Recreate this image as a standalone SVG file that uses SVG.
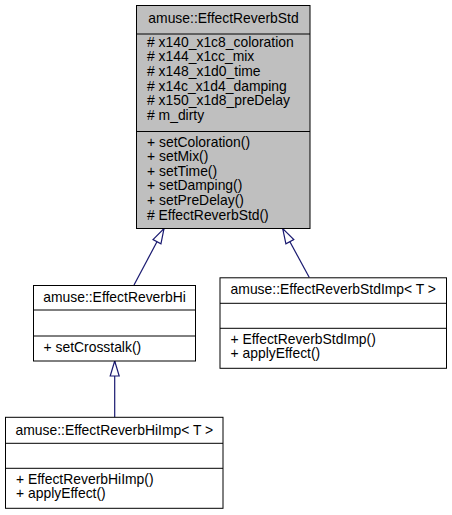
<svg xmlns="http://www.w3.org/2000/svg" width="452" height="515" viewBox="0 0 452 515">
<style>
rect.box{fill:#ffffff;stroke:#000000;stroke-width:1}
rect.focus{fill:#bfbfbf}
line.sep{stroke:#000000;stroke-width:1}
text{font-family:"Liberation Sans",Arial,Helvetica,sans-serif;font-size:13.9px;fill:#000000}
text.t{text-anchor:middle}
.edge{stroke:#191970;stroke-width:1.2;fill:none;marker-end:url(#inh)}
</style>
<defs>
<marker id="inh" markerUnits="userSpaceOnUse" viewBox="0 0 17 11" refX="16" refY="5.5" markerWidth="17" markerHeight="11" orient="auto">
<path d="M1,1 L16,5.5 L1,10 Z" fill="#ffffff" stroke="#191970" stroke-width="1.2"/>
</marker>
</defs>
<g id="connectors">
<path class="edge" d="M134,285 L164,228.5"/>
<path class="edge" d="M309.3,277.5 L282.7,228.5"/>
<path class="edge" d="M114.7,417.3 L114.7,361"/>
</g>
<g id="EffectReverbStd">
<rect class="box focus" x="136.5" y="5.5" width="173.5" height="223"/>
<line class="sep" x1="136.5" y1="34" x2="310" y2="34"/>
<line class="sep" x1="136.5" y1="131.5" x2="310" y2="131.5"/>
<text class="t" x="223.5" y="22.5">amuse::EffectReverbStd</text>
<text x="147" y="46.7"># x140_x1c8_coloration</text>
<text x="147" y="61.3"># x144_x1cc_mix</text>
<text x="147" y="75.9"># x148_x1d0_time</text>
<text x="147" y="90.5"># x14c_x1d4_damping</text>
<text x="147" y="105.1"># x150_x1d8_preDelay</text>
<text x="147" y="119.7"># m_dirty</text>
<text x="147" y="146.5">+ setColoration()</text>
<text x="147" y="161.1">+ setMix()</text>
<text x="147" y="175.7">+ setTime()</text>
<text x="147" y="190.3">+ setDamping()</text>
<text x="147" y="204.9">+ setPreDelay()</text>
<text x="147" y="219.5"># EffectReverbStd()</text>
</g>
<g id="EffectReverbHi">
<rect class="box" x="33.5" y="285.5" width="162" height="75.5"/>
<line class="sep" x1="33.5" y1="310" x2="195.5" y2="310"/>
<line class="sep" x1="33.5" y1="336" x2="195.5" y2="336"/>
<text class="t" x="114.5" y="301.7">amuse::EffectReverbHi</text>
<text x="43.5" y="351.7">+ setCrosstalk()</text>
</g>
<g id="EffectReverbStdImp">
<rect class="box" x="220" y="277.8" width="226.5" height="90.5"/>
<line class="sep" x1="220" y1="303.3" x2="446.5" y2="303.3"/>
<line class="sep" x1="220" y1="328.3" x2="446.5" y2="328.3"/>
<text class="t" x="333.3" y="294">amuse::EffectReverbStdImp&lt; T &gt;</text>
<text x="230.5" y="343.7">+ EffectReverbStdImp()</text>
<text x="230.5" y="358.3">+ applyEffect()</text>
</g>
<g id="EffectReverbHiImp">
<rect class="box" x="5.5" y="417.3" width="217.5" height="91"/>
<line class="sep" x1="5.5" y1="443.3" x2="223" y2="443.3"/>
<line class="sep" x1="5.5" y1="468.3" x2="223" y2="468.3"/>
<text class="t" x="114.3" y="435">amuse::EffectReverbHiImp&lt; T &gt;</text>
<text x="16" y="483.7">+ EffectReverbHiImp()</text>
<text x="16" y="498.3">+ applyEffect()</text>
</g>
</svg>
